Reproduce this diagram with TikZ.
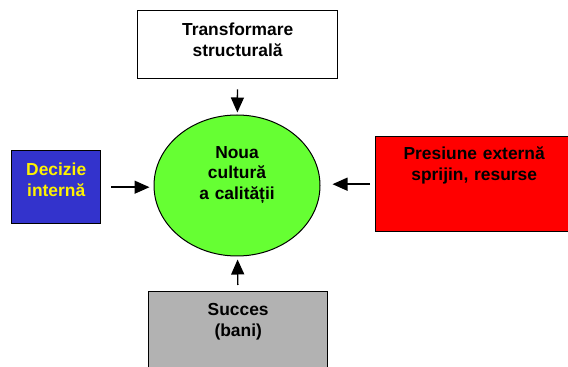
\documentclass[tikz,border=0pt]{standalone}
\usepackage{fontspec}
\setmainfont{Liberation Sans}
\usepackage{tikz}
\usetikzlibrary{shapes.geometric, arrows.meta}
\usepackage{xcolor}
\definecolor{caseta blue}{RGB}{51,51,204}
\definecolor{caseta green}{RGB}{102,255,51}
\definecolor{caseta red}{RGB}{255,0,0}
\definecolor{caseta gray}{RGB}{178,178,178}
\tikzset{
    caseta/.style={draw=black, line width=1.4pt, align=center, inner sep=0pt, anchor=north west},
    cultura/.style={ellipse, draw=black, line width=1pt, fill=caseta green, align=center, inner sep=0pt},
    sageata/.style={line width=1.4pt, -{Triangle[width=13pt, length=15pt]}}
}
\begin{document}
\begin{tikzpicture}[x=1pt, y=1pt, font=\fontsize{17.4}{20.5}\selectfont\bfseries]
    \useasboundingbox (0,0) rectangle (568,367);
    \node[cultura, minimum width=166pt, minimum height=141pt, text width=100pt, text height=15pt, text depth=69.4pt] (noua) at (237,181.5) {Noua\\ cultură\\ a calității};
    \node[caseta, fill=white, text width=200pt, text height=25pt, text depth=43pt] (transformare) at (137,357) {Transformare\\ structurală};
    \node[caseta, fill=caseta blue, text=yellow, text width=89pt, text height=25pt, text depth=48pt] (decizie) at (11,217) {Decizie\\ internă};
    \node[caseta, fill=caseta red, text width=197pt, text height=23pt, text depth=72pt] (presiune) at (375,231) {Presiune externă\\ sprijin, resurse};
    \node[caseta, fill=caseta gray, text width=179pt, text height=24pt, text depth=60pt] (succes) at (148,76) {Succes\\ (bani)};
    % sagetile spre elipsa
    \draw[sageata, shorten <=10pt, shorten >=2pt] (transformare) -- (noua);
    \draw[sageata, shorten <=10pt, shorten >=4pt] (decizie.east) -- (decizie.east -| noua.west);
    \draw[sageata, shorten <=5pt, shorten >=12pt] (presiune.west) -- (presiune.west -| noua.east);
    \draw[sageata, shorten <=6pt, shorten >=3pt] (succes) -- (noua);
\end{tikzpicture}
\end{document}
